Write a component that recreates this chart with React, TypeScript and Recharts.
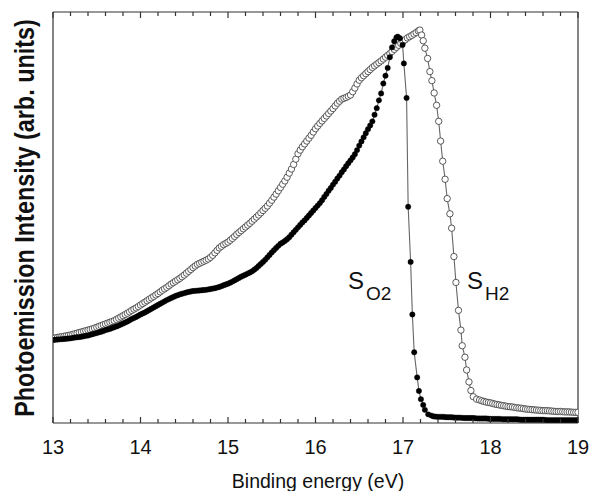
import React from 'react';
import { ComposedChart, Line, XAxis, YAxis, ReferenceLine, Customized } from 'recharts';

const xTicks = [
  13, 13.2, 13.4, 13.6, 13.8, 14, 14.2, 14.4, 14.6, 14.8, 15, 15.2, 15.4, 15.6, 15.8, 16,
  16.2, 16.4, 16.6, 16.8, 17, 17.2, 17.4, 17.6, 17.8, 18, 18.2, 18.4, 18.6, 18.8, 19,
];

// S_O2 (filled circles): [binding energy eV, intensity arb.]
const o2Points: [number, number][] = [
  [13.0, 20.2], [13.025, 20.25], [13.05, 20.3], [13.075, 20.35], [13.1, 20.4], [13.125, 20.45], [13.15, 20.5],
  [13.175, 20.55], [13.2, 20.6], [13.225, 20.7], [13.25, 20.8], [13.275, 20.85], [13.3, 20.9], [13.325, 21.0],
  [13.35, 21.1], [13.375, 21.2], [13.4, 21.3], [13.425, 21.45], [13.45, 21.6], [13.475, 21.75], [13.5, 21.9],
  [13.525, 22.05], [13.55, 22.2], [13.575, 22.4], [13.6, 22.6], [13.625, 22.75], [13.65, 22.9], [13.675, 23.1],
  [13.7, 23.3], [13.725, 23.5], [13.75, 23.7], [13.775, 23.95], [13.8, 24.2], [13.825, 24.45], [13.85, 24.7],
  [13.875, 25.0], [13.9, 25.3], [13.925, 25.55], [13.95, 25.8], [13.975, 26.1], [14.0, 26.4], [14.025, 26.65],
  [14.05, 26.9], [14.075, 27.2], [14.1, 27.5], [14.125, 27.8], [14.15, 28.1], [14.175, 28.4], [14.2, 28.7],
  [14.225, 29.0], [14.25, 29.3], [14.275, 29.6], [14.3, 29.9], [14.325, 30.15], [14.35, 30.4], [14.375, 30.65],
  [14.4, 30.9], [14.425, 31.1], [14.45, 31.3], [14.475, 31.45], [14.5, 31.6], [14.525, 31.75], [14.55, 31.9],
  [14.575, 32.0], [14.6, 32.1], [14.625, 32.15], [14.65, 32.2], [14.675, 32.25], [14.7, 32.3], [14.725, 32.35],
  [14.75, 32.4], [14.775, 32.5], [14.8, 32.6], [14.825, 32.7], [14.85, 32.8], [14.875, 32.95], [14.9, 33.1],
  [14.925, 33.3], [14.95, 33.5], [14.975, 33.7], [15.0, 33.9], [15.025, 34.15], [15.05, 34.4], [15.075, 34.7],
  [15.1, 35.0], [15.125, 35.3], [15.15, 35.6], [15.175, 35.85], [15.2, 36.1], [15.225, 36.35], [15.25, 36.6],
  [15.275, 36.9], [15.3, 37.3], [15.325, 37.7], [15.35, 38.2], [15.375, 38.7], [15.4, 39.2], [15.425, 39.7],
  [15.45, 40.3], [15.475, 40.9], [15.5, 41.5], [15.525, 42.05], [15.55, 42.6], [15.575, 43.1], [15.6, 43.6],
  [15.625, 43.9], [15.65, 44.3], [15.675, 44.7], [15.7, 45.2], [15.725, 45.8], [15.75, 46.4], [15.775, 47.0],
  [15.8, 47.6], [15.825, 48.2], [15.85, 48.8], [15.875, 49.3], [15.9, 49.9], [15.925, 50.5], [15.95, 51.1],
  [15.975, 51.7], [16.0, 52.3], [16.025, 52.9], [16.05, 53.5], [16.075, 54.2], [16.1, 55.0], [16.125, 55.7],
  [16.15, 56.5], [16.175, 57.2], [16.2, 58.0], [16.225, 58.7], [16.25, 59.5], [16.275, 60.2], [16.3, 61.0],
  [16.325, 61.7], [16.35, 62.5], [16.375, 63.2], [16.4, 63.9], [16.425, 64.6], [16.45, 65.4], [16.475, 66.4],
  [16.5, 67.5], [16.525, 68.5], [16.55, 69.5], [16.575, 70.5], [16.6, 71.5], [16.625, 72.4], [16.65, 73.4],
  [16.675, 75.0], [16.7, 76.6], [16.725, 78.5], [16.75, 80.2], [16.775, 82.6], [16.8, 84.5], [16.825, 86.4],
  [16.85, 89.0], [16.875, 91.4], [16.9, 92.9], [16.925, 93.8], [16.94, 94.0], [16.965, 93.6], [16.995, 92.0],
  [17.01, 87.5], [17.041, 79.1], [17.059, 52.6], [17.087, 39.2], [17.107, 26.4], [17.128, 17.2], [17.162, 11.1],
  [17.182, 7.8], [17.205, 5.8], [17.231, 4.4], [17.25, 3.2], [17.288, 2.1], [17.325, 1.8], [17.35, 1.6],
  [17.375, 1.55], [17.4, 1.5], [17.425, 1.5], [17.45, 1.5], [17.475, 1.45], [17.5, 1.4], [17.525, 1.4],
  [17.55, 1.4], [17.575, 1.35], [17.6, 1.3], [17.625, 1.3], [17.65, 1.3], [17.675, 1.25], [17.7, 1.2],
  [17.725, 1.2], [17.75, 1.2], [17.775, 1.2], [17.8, 1.2], [17.825, 1.15], [17.85, 1.1], [17.875, 1.1],
  [17.9, 1.1], [17.925, 1.1], [17.95, 1.1], [17.975, 1.05], [18.0, 1.0], [18.025, 1.0], [18.05, 1.0],
  [18.075, 1.0], [18.1, 1.0], [18.125, 0.95], [18.15, 0.9], [18.175, 0.9], [18.2, 0.9], [18.225, 0.9],
  [18.25, 0.9], [18.275, 0.9], [18.3, 0.9], [18.325, 0.85], [18.35, 0.8], [18.375, 0.8], [18.4, 0.8],
  [18.425, 0.8], [18.45, 0.8], [18.475, 0.8], [18.5, 0.8], [18.525, 0.8], [18.55, 0.8], [18.575, 0.8],
  [18.6, 0.8], [18.625, 0.75], [18.65, 0.7], [18.675, 0.7], [18.7, 0.7], [18.725, 0.7], [18.75, 0.7],
  [18.775, 0.7], [18.8, 0.7], [18.825, 0.7], [18.85, 0.7], [18.875, 0.7], [18.9, 0.7], [18.925, 0.7],
  [18.95, 0.7], [18.975, 0.7], [19.0, 0.7],
];

// S_H2 (open circles): [binding energy eV, intensity arb.]
const h2Points: [number, number][] = [
  [13.0, 20.6], [13.025, 20.7], [13.05, 20.8], [13.075, 20.9], [13.1, 21.0], [13.125, 21.1], [13.15, 21.2],
  [13.175, 21.3], [13.2, 21.4], [13.225, 21.55], [13.25, 21.7], [13.275, 21.85], [13.3, 22.0], [13.325, 22.15],
  [13.35, 22.3], [13.375, 22.45], [13.4, 22.6], [13.425, 22.75], [13.45, 22.9], [13.475, 23.1], [13.5, 23.3],
  [13.525, 23.5], [13.55, 23.7], [13.575, 23.9], [13.6, 24.1], [13.625, 24.3], [13.65, 24.5], [13.675, 24.7],
  [13.7, 24.9], [13.725, 25.2], [13.75, 25.5], [13.775, 25.8], [13.8, 26.1], [13.825, 26.4], [13.85, 26.7],
  [13.875, 27.05], [13.9, 27.4], [13.925, 27.7], [13.95, 28.0], [13.975, 28.35], [14.0, 28.7], [14.025, 29.05],
  [14.05, 29.4], [14.075, 29.75], [14.1, 30.1], [14.125, 30.45], [14.15, 30.8], [14.175, 31.15], [14.2, 31.5],
  [14.225, 31.9], [14.25, 32.3], [14.275, 32.65], [14.3, 33.0], [14.325, 33.4], [14.35, 33.8], [14.375, 34.15],
  [14.4, 34.5], [14.425, 34.85], [14.45, 35.2], [14.475, 35.6], [14.5, 36.0], [14.525, 36.45], [14.55, 36.9],
  [14.575, 37.35], [14.6, 37.8], [14.625, 38.2], [14.65, 38.6], [14.675, 38.85], [14.7, 39.1], [14.725, 39.35],
  [14.75, 39.6], [14.775, 39.9], [14.8, 40.3], [14.825, 40.8], [14.85, 41.4], [14.875, 42.0], [14.9, 42.6],
  [14.925, 43.0], [14.95, 43.4], [14.975, 43.7], [15.0, 44.0], [15.025, 44.45], [15.05, 44.9], [15.075, 45.4],
  [15.1, 45.9], [15.125, 46.35], [15.15, 46.8], [15.175, 47.25], [15.2, 47.7], [15.225, 48.15], [15.25, 48.6],
  [15.275, 49.1], [15.3, 49.6], [15.325, 50.1], [15.35, 50.6], [15.375, 51.15], [15.4, 51.7], [15.425, 52.25],
  [15.45, 52.8], [15.475, 53.5], [15.5, 54.2], [15.525, 54.95], [15.55, 55.7], [15.575, 56.5], [15.6, 57.3],
  [15.625, 58.1], [15.65, 58.9], [15.675, 59.8], [15.7, 60.8], [15.725, 61.8], [15.75, 62.9], [15.775, 64.2],
  [15.8, 65.5], [15.825, 66.4], [15.85, 67.2], [15.875, 67.9], [15.9, 68.6], [15.925, 69.3], [15.95, 70.0],
  [15.975, 70.8], [16.0, 71.6], [16.025, 72.25], [16.05, 72.9], [16.075, 73.5], [16.1, 74.1], [16.125, 74.7],
  [16.15, 75.3], [16.175, 75.9], [16.2, 76.5], [16.225, 77.15], [16.25, 77.8], [16.275, 78.3], [16.3, 78.8],
  [16.325, 79.0], [16.35, 79.2], [16.375, 79.5], [16.4, 79.8], [16.425, 80.6], [16.45, 81.5], [16.475, 82.5],
  [16.5, 83.4], [16.525, 84.0], [16.55, 84.5], [16.575, 85.0], [16.6, 85.5], [16.625, 86.0], [16.65, 86.5],
  [16.675, 86.9], [16.7, 87.3], [16.725, 87.7], [16.75, 88.1], [16.775, 88.55], [16.8, 89.0], [16.825, 89.45],
  [16.85, 89.9], [16.875, 90.4], [16.9, 90.9], [16.925, 91.4], [16.95, 91.9], [16.975, 92.35], [17.0, 92.8],
  [17.025, 93.25], [17.05, 93.7], [17.075, 94.0], [17.1, 94.3], [17.125, 94.65], [17.15, 95.0], [17.175, 95.4],
  [17.193, 95.6], [17.213, 94.4], [17.231, 93.0], [17.25, 91.2], [17.281, 88.7], [17.307, 85.5], [17.33, 83.3],
  [17.356, 80.3], [17.384, 77.3], [17.408, 73.4], [17.43, 68.6], [17.454, 63.7], [17.481, 59.3], [17.505, 54.6],
  [17.536, 50.9], [17.556, 47.4], [17.582, 40.5], [17.605, 34.2], [17.634, 27.4], [17.662, 22.6], [17.677, 18.8],
  [17.708, 16.0], [17.727, 12.9], [17.754, 10.0], [17.776, 7.9], [17.803, 6.4], [17.842, 5.8], [17.875, 5.6],
  [17.9, 5.4], [17.925, 5.25], [17.95, 5.1], [17.975, 5.0], [18.0, 4.9], [18.025, 4.75], [18.05, 4.6],
  [18.075, 4.5], [18.1, 4.4], [18.125, 4.3], [18.15, 4.2], [18.175, 4.1], [18.2, 4.0], [18.225, 3.95],
  [18.25, 3.9], [18.275, 3.8], [18.3, 3.7], [18.325, 3.65], [18.35, 3.6], [18.375, 3.5], [18.4, 3.4],
  [18.425, 3.35], [18.45, 3.3], [18.475, 3.25], [18.5, 3.2], [18.525, 3.15], [18.55, 3.1], [18.575, 3.05],
  [18.6, 3.0], [18.625, 3.0], [18.65, 3.0], [18.675, 2.95], [18.7, 2.9], [18.725, 2.85], [18.75, 2.8],
  [18.775, 2.8], [18.8, 2.8], [18.825, 2.75], [18.85, 2.7], [18.875, 2.7], [18.9, 2.7], [18.925, 2.65],
  [18.95, 2.6], [18.975, 2.6], [19.0, 2.6],
];

const xAxisTitle = 'Binding energy (eV)';
const yAxisTitle = 'Photoemission Intensity (arb. units)';

const o2Data = o2Points.map(([e, v]) => ({ e, v }));
const h2Data = h2Points.map(([e, v]) => ({ e, v }));

const FONT = '"Liberation Sans", Arial, Helvetica, sans-serif';
const AXIS = '#333';

const makeTick = (side: 'bottom' | 'top') => (props: any) => {
  const { x, y, payload } = props;
  const v = payload.value;
  const major = Math.abs(v - Math.round(v)) < 1e-6;
  const len = major ? 6 : 4;
  const dir = side === 'bottom' ? -1 : 1;
  return (
    <g>
      <line x1={x} x2={x} y1={y} y2={y + dir * len} stroke={AXIS} strokeWidth={1.2} />
      {side === 'bottom' && major && (
        <text x={x} y={y + 31} textAnchor="middle" fontSize={20} fill="#111" fontFamily={FONT}>
          {Math.round(v)}
        </text>
      )}
    </g>
  );
};

const Annotations = () => (
  <g fontFamily={FONT} fill="#111">
    <text x={318} y={488} textAnchor="middle" fontSize={19.5}>
      {xAxisTitle}
    </text>
    <text
      transform="translate(34,218) rotate(-90) scale(1,1.2)"
      x={0}
      y={0}
      textAnchor="middle"
      fontSize={23.4}
      fontWeight="bold"
    >
      {yAxisTitle}
    </text>
    <text x={348} y={289} fontSize={24}>
      S
      <tspan fontSize={19} dx={2} dy={11}>O2</tspan>
    </text>
    <text x={467} y={289} fontSize={24}>
      S
      <tspan fontSize={19} dx={2} dy={11}>H2</tspan>
    </text>
  </g>
);

export default function App() {
  return (
    <div style={{ position: 'absolute', left: 0, top: 0, background: '#fff' }}>
      <ComposedChart
        width={590}
        height={491}
        margin={{ top: 10, right: 12, bottom: 38, left: 53 }}
      >
        <XAxis
          xAxisId="b"
          type="number"
          dataKey="e"
          domain={[13, 19]}
          ticks={xTicks}
          interval={0}
          height={30}
          tickSize={0}
          tickMargin={0}
          tickLine={false}
          axisLine={{ stroke: AXIS, strokeWidth: 1.2 }}
          tick={makeTick('bottom')}
          allowDataOverflow
        />
        <XAxis
          xAxisId="t"
          orientation="top"
          type="number"
          dataKey="e"
          domain={[13, 19]}
          ticks={xTicks}
          interval={0}
          height={2}
          tickSize={0}
          tickMargin={0}
          tickLine={false}
          axisLine={{ stroke: AXIS, strokeWidth: 1.2 }}
          tick={makeTick('top')}
          allowDataOverflow
        />
        <YAxis hide domain={[0, 100]} type="number" allowDataOverflow />
        <ReferenceLine xAxisId="b" x={13} stroke={AXIS} strokeWidth={1.2} />
        <ReferenceLine xAxisId="b" x={19} stroke={AXIS} strokeWidth={1.2} />

        <Line
          xAxisId="b"
          data={h2Data}
          dataKey="v"
          type="linear"
          stroke="none"
          dot={{ r: 3.2, fill: '#fff', stroke: '#333', strokeWidth: 0.8 }}
          activeDot={false}
          isAnimationActive={false}
        />
        <Line
          xAxisId="b"
          data={h2Data}
          dataKey="v"
          type="linear"
          stroke="#666"
          strokeWidth={1.1}
          dot={false}
          activeDot={false}
          isAnimationActive={false}
        />
        <Line
          xAxisId="b"
          data={o2Data}
          dataKey="v"
          type="linear"
          stroke="none"
          dot={{ r: 2.7, fill: '#000', stroke: '#000', strokeWidth: 0.4 }}
          activeDot={false}
          isAnimationActive={false}
        />
        <Line
          xAxisId="b"
          data={o2Data}
          dataKey="v"
          type="linear"
          stroke="#666"
          strokeWidth={1.1}
          dot={false}
          activeDot={false}
          isAnimationActive={false}
        />
        <Customized component={Annotations} />
      </ComposedChart>
    </div>
  );
}
